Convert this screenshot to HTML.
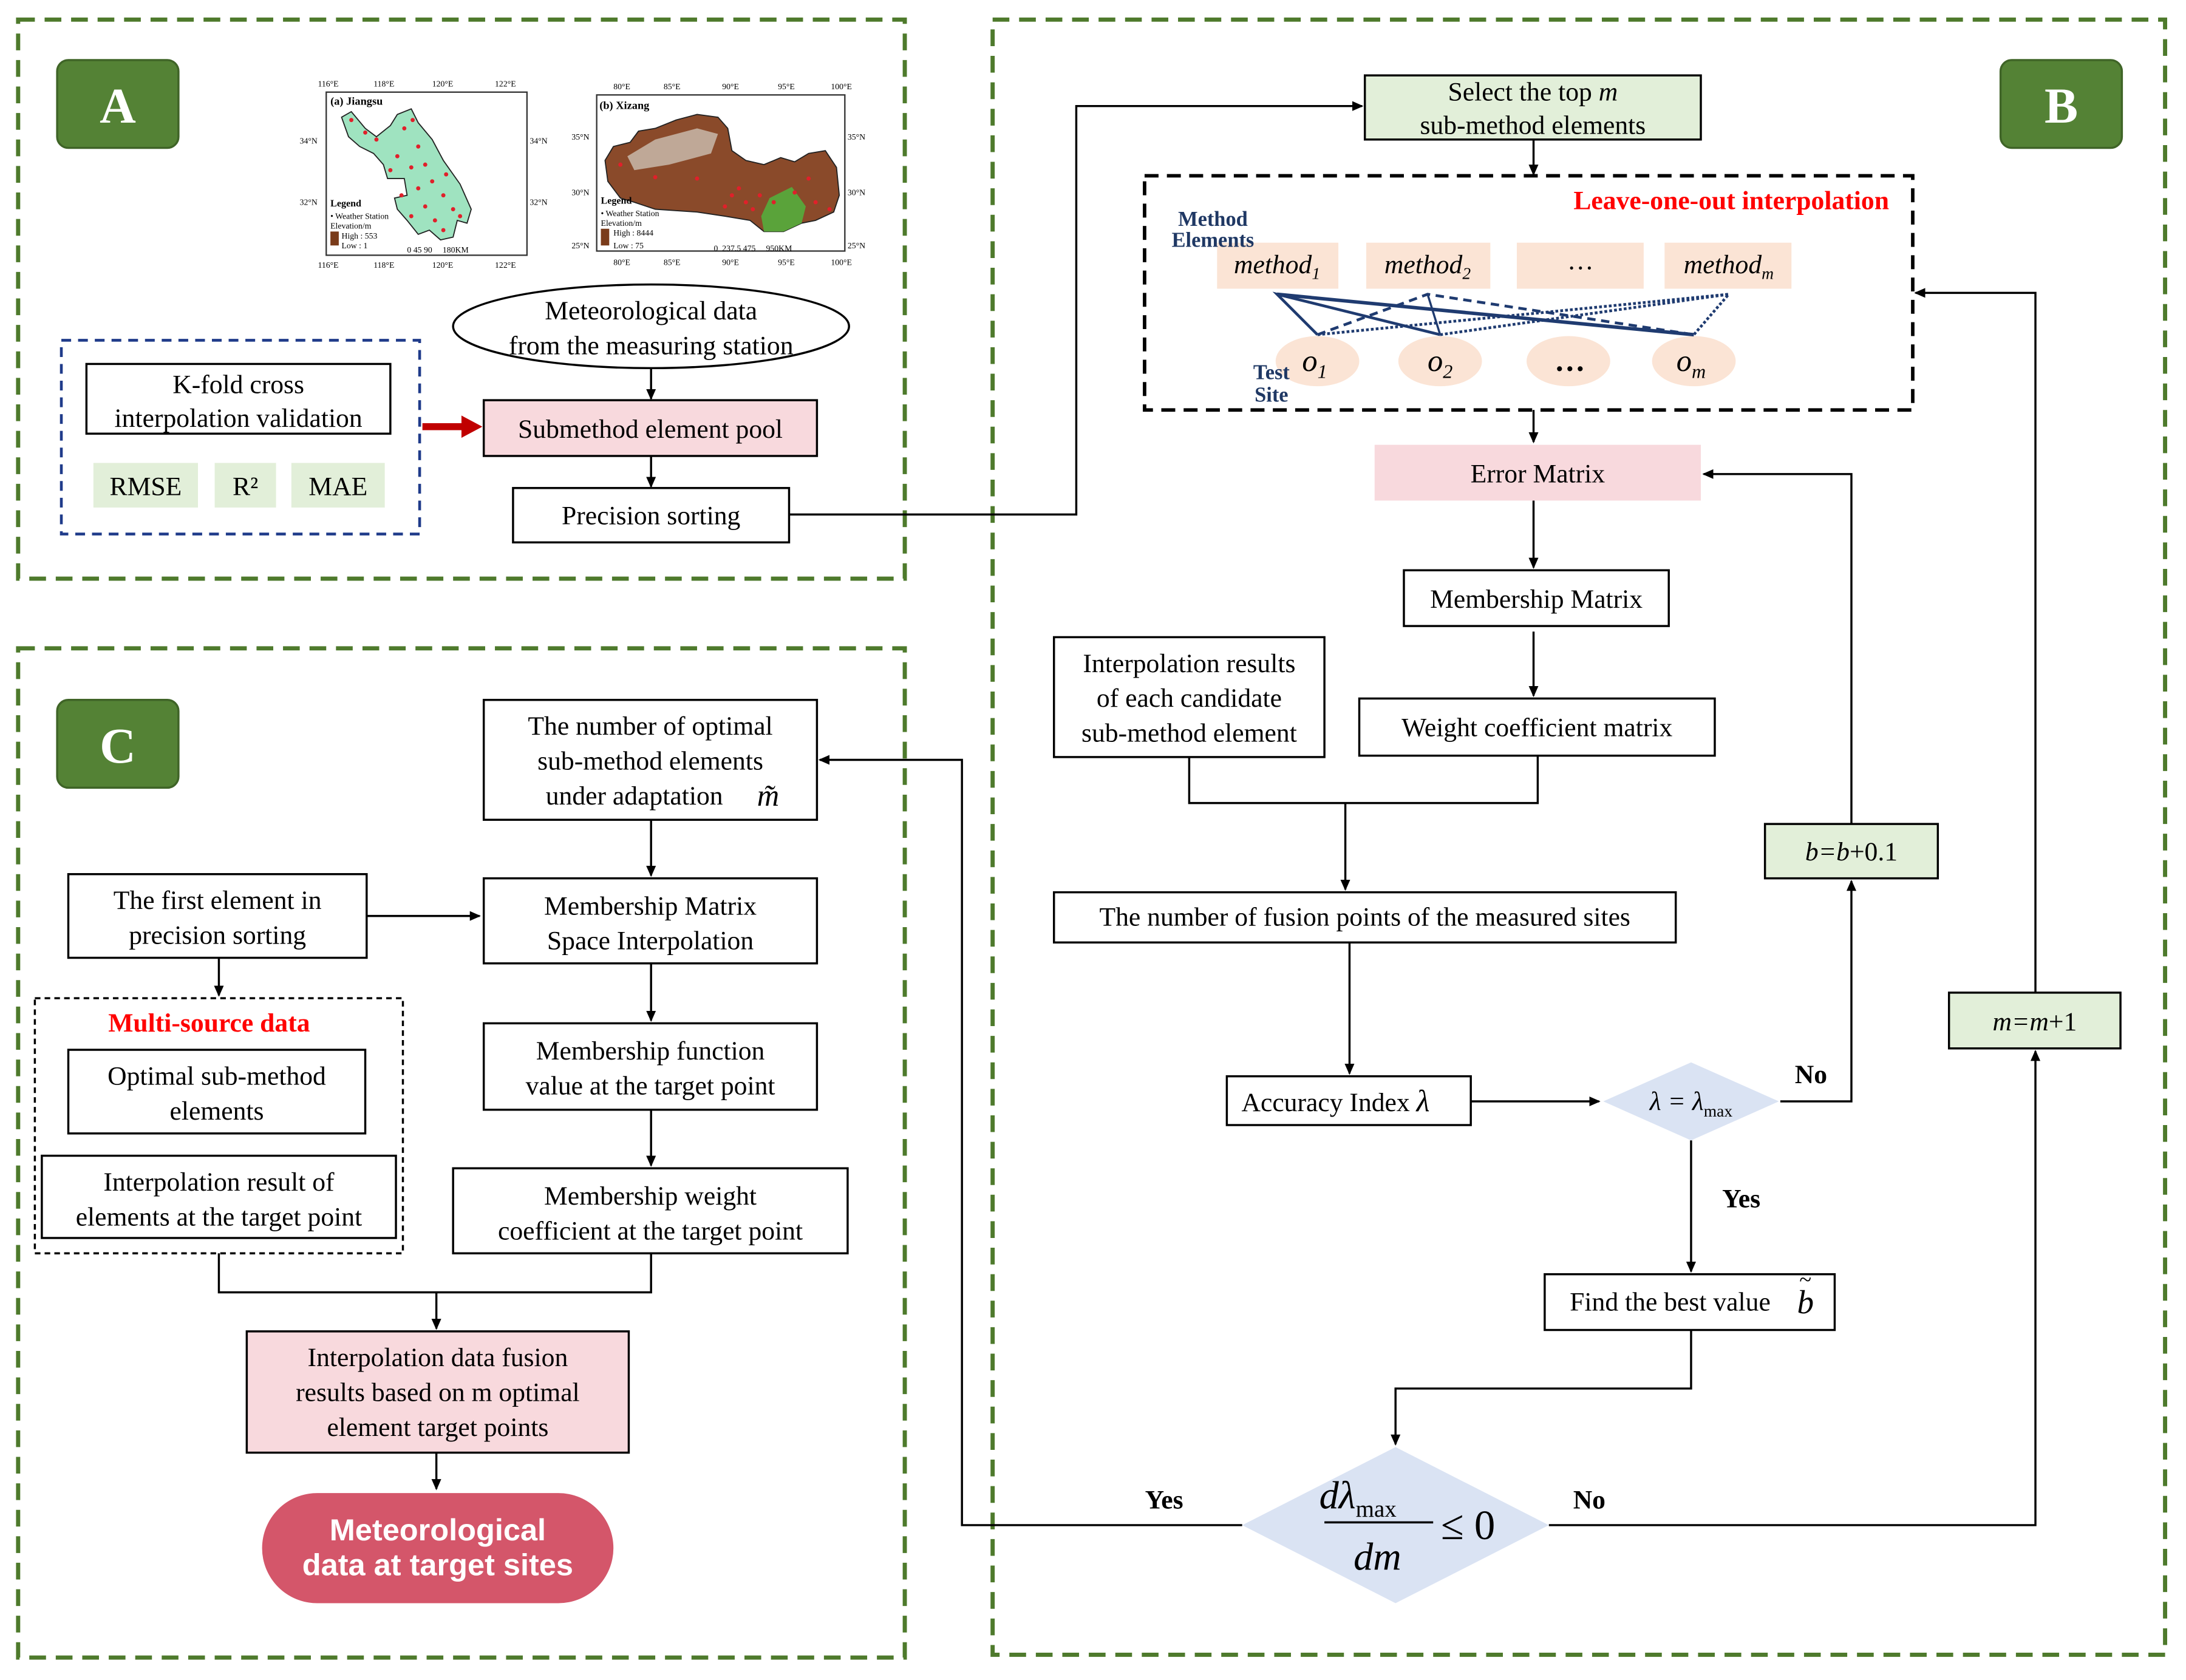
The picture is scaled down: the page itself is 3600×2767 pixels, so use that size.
<!DOCTYPE html>
<html><head><meta charset="utf-8"><style>
html,body{margin:0;padding:0;background:#fff;}
svg{display:block;}
text{font-family:"Liberation Serif",serif;fill:#000;}
</style></head><body>
<svg width="3600" height="2767" viewBox="0 0 1568 1205" xmlns="http://www.w3.org/2000/svg">
<defs>
<marker id="ar" markerWidth="8" markerHeight="8" refX="7" refY="4" orient="auto" markerUnits="userSpaceOnUse"><path d="M0,0.5 L8,4 L0,7.5 Z" fill="#000"/></marker>
</defs>
<rect width="1568" height="1205" fill="#fff"/>
<g fill="none" stroke="#4e7a2c" stroke-width="3" stroke-dasharray="12,7">
<rect x="13" y="14" width="636" height="401"/>
<rect x="712" y="14" width="841" height="1173"/>
<rect x="13" y="465" width="636" height="724"/>
</g>
<g font-weight="bold">
<rect x="41" y="43" width="87" height="63" rx="8" fill="#548235" stroke="#3f6427" stroke-width="1.5"/>
<text x="84.5" y="88" font-size="36" text-anchor="middle" style="fill:#fff;font-weight:bold">A</text>
<rect x="1435" y="43" width="87" height="63" rx="8" fill="#548235" stroke="#3f6427" stroke-width="1.5"/>
<text x="1478.5" y="88" font-size="36" text-anchor="middle" style="fill:#fff;font-weight:bold">B</text>
<rect x="41" y="502" width="87" height="63" rx="8" fill="#548235" stroke="#3f6427" stroke-width="1.5"/>
<text x="84.5" y="547" font-size="36" text-anchor="middle" style="fill:#fff;font-weight:bold">C</text>
</g>

<g font-size="6">
<rect x="234" y="66" width="144" height="117" fill="#fff" stroke="#333" stroke-width="1"/>
<text x="228" y="62">116°E</text><text x="268" y="62">118°E</text><text x="310" y="62">120°E</text><text x="355" y="62">122°E</text>
<text x="228" y="192">116°E</text><text x="268" y="192">118°E</text><text x="310" y="192">120°E</text><text x="355" y="192">122°E</text>
<text x="215" y="103">34°N</text><text x="380" y="103">34°N</text><text x="215" y="147">32°N</text><text x="380" y="147">32°N</text>
<text x="237" y="75" font-weight="bold" font-size="8">(a) Jiangsu</text>
<path d="M245,84 L252,80 L262,92 L270,98 L280,90 L285,82 L295,78 L300,88 L310,100 L318,115 L330,132 L338,150 L335,160 L328,158 L325,170 L316,172 L308,165 L300,168 L292,158 L285,150 L283,142 L292,140 L290,128 L278,128 L275,118 L268,110 L258,105 L250,98 Z" fill="#9fe3c0" stroke="#222" stroke-width="0.8"/>
<g fill="#e0202a">
<circle cx="252" cy="86" r="1.5"/><circle cx="262" cy="95" r="1.5"/><circle cx="290" cy="92" r="1.5"/><circle cx="300" cy="105" r="1.5"/><circle cx="285" cy="112" r="1.5"/><circle cx="295" cy="120" r="1.5"/><circle cx="305" cy="118" r="1.5"/><circle cx="310" cy="130" r="1.5"/><circle cx="300" cy="135" r="1.5"/><circle cx="288" cy="140" r="1.5"/><circle cx="318" cy="140" r="1.5"/><circle cx="325" cy="150" r="1.5"/><circle cx="305" cy="148" r="1.5"/><circle cx="295" cy="155" r="1.5"/><circle cx="312" cy="158" r="1.5"/><circle cx="280" cy="122" r="1.5"/><circle cx="270" cy="100" r="1.5"/><circle cx="296" cy="86" r="1.5"/><circle cx="320" cy="125" r="1.5"/><circle cx="318" cy="165" r="1.5"/><circle cx="330" cy="155" r="1.5"/>
</g>
<text x="237" y="148" font-weight="bold" font-size="7">Legend</text>
<text x="237" y="157" font-size="6">• Weather Station</text><text x="237" y="164">Elevation/m</text>
<rect x="237" y="166" width="6" height="10" fill="#7a3b1a"/><text x="245" y="171">High : 553</text><text x="245" y="178">Low : 1</text>
<text x="292" y="181">0 45 90&#160;&#160;&#160;&#160;&#160;180KM</text>

<rect x="428" y="68" width="178" height="112" fill="#fff" stroke="#333" stroke-width="1"/>
<text x="440" y="64">80°E</text><text x="476" y="64">85°E</text><text x="518" y="64">90°E</text><text x="558" y="64">95°E</text><text x="596" y="64">100°E</text>
<text x="440" y="190">80°E</text><text x="476" y="190">85°E</text><text x="518" y="190">90°E</text><text x="558" y="190">95°E</text><text x="596" y="190">100°E</text>
<text x="410" y="100">35°N</text><text x="608" y="100">35°N</text><text x="410" y="140">30°N</text><text x="608" y="140">30°N</text><text x="410" y="178">25°N</text><text x="608" y="178">25°N</text>
<text x="430" y="78" font-weight="bold" font-size="8">(b) Xizang</text>
<path d="M434,115 L440,105 L452,102 L458,94 L470,92 L485,86 L500,82 L515,84 L522,92 L525,108 L535,115 L548,118 L560,113 L570,116 L580,110 L592,108 L600,120 L602,140 L598,152 L585,158 L575,160 L562,166 L548,166 L538,158 L520,155 L500,152 L470,150 L455,145 L445,142 L436,130 Z" fill="#8a4a2a" stroke="#222" stroke-width="0.8"/>
<path d="M450,112 L470,100 L500,92 L515,96 L510,110 L480,118 L455,122 Z" fill="#c8b8aa" opacity="0.85"/>
<path d="M552,142 L568,134 L578,148 L575,160 L562,166 L548,166 L546,155 Z" fill="#5aa33a"/>
<g fill="#e0202a"><circle cx="445" cy="118" r="1.5"/><circle cx="470" cy="127" r="1.5"/><circle cx="500" cy="128" r="1.5"/><circle cx="530" cy="135" r="1.5"/><circle cx="545" cy="140" r="1.5"/><circle cx="555" cy="145" r="1.5"/><circle cx="570" cy="138" r="1.5"/><circle cx="585" cy="145" r="1.5"/><circle cx="520" cy="148" r="1.5"/><circle cx="540" cy="150" r="1.5"/><circle cx="580" cy="128" r="1.5"/><circle cx="595" cy="150" r="1.5"/><circle cx="525" cy="140" r="1.5"/><circle cx="535" cy="145" r="1.5"/></g>
<text x="431" y="146" font-weight="bold" font-size="7">Legend</text>
<text x="431" y="155">• Weather Station</text><text x="431" y="162">Elevation/m</text>
<rect x="431" y="164" width="6" height="12" fill="#7a3b1a"/><text x="440" y="169">High : 8444</text><text x="440" y="178">Low : 75</text>
<text x="512" y="180">0&#160;&#160;237.5&#160;475&#160;&#160;&#160;&#160;&#160;950KM</text>
</g>

<g font-size="19">
<rect x="44" y="244" width="257" height="139" fill="none" stroke="#1f3b8a" stroke-width="2" stroke-dasharray="7,5"/>
<rect x="62" y="261" width="218" height="50" fill="#fff" stroke="#000" stroke-width="1.5"/>
<text x="171" y="282" text-anchor="middle">K-fold cross</text>
<text x="171" y="306" text-anchor="middle">interpolation validation</text>
<rect x="67" y="332" width="75" height="32" fill="#e2efd9"/><text x="104.5" y="355" text-anchor="middle">RMSE</text>
<rect x="154" y="332" width="44" height="32" fill="#e2efd9"/><text x="176" y="355" text-anchor="middle">R²</text>
<rect x="209" y="332" width="67" height="32" fill="#e2efd9"/><text x="242.5" y="355" text-anchor="middle">MAE</text>
<path d="M303,306 L333,306" stroke="#c00000" stroke-width="5"/><path d="M331,298 L346,306 L331,314 Z" fill="#c00000"/>
<ellipse cx="467" cy="234" rx="142" ry="30" fill="#fff" stroke="#000" stroke-width="1.5"/>
<text x="467" y="229" text-anchor="middle">Meteorological data</text>
<text x="467" y="254" text-anchor="middle">from the measuring station</text>
<line x1="467" y1="264" x2="467" y2="286" stroke="#000" stroke-width="1.5" marker-end="url(#ar)"/>
<rect x="347" y="287" width="239" height="40" fill="#f8d9dd" stroke="#000" stroke-width="1.5"/>
<text x="466.5" y="314" text-anchor="middle">Submethod element pool</text>
<line x1="467" y1="327" x2="467" y2="349" stroke="#000" stroke-width="1.5" marker-end="url(#ar)"/>
<rect x="368" y="350" width="198" height="39" fill="#fff" stroke="#000" stroke-width="1.5"/>
<text x="467" y="376" text-anchor="middle">Precision sorting</text>
<polyline points="566,369 772,369 772,76 977,76" fill="none" stroke="#000" stroke-width="1.5" marker-end="url(#ar)"/>
</g>

<g font-size="19">
<rect x="979" y="54" width="241" height="46" fill="#e2efd9" stroke="#000" stroke-width="1.5"/>
<text x="1099.5" y="72" text-anchor="middle">Select the top <tspan font-style="italic">m</tspan></text>
<text x="1099.5" y="96" text-anchor="middle">sub-method elements</text>
<line x1="1100" y1="100" x2="1100" y2="125" stroke="#000" stroke-width="1.5" marker-end="url(#ar)"/>
<rect x="821" y="126" width="551" height="168" fill="none" stroke="#000" stroke-width="2.5" stroke-dasharray="10,6"/>
<text x="1355" y="150" text-anchor="end" style="fill:#ff0000;font-weight:bold" font-size="19">Leave-one-out interpolation</text>
<g fill="#fbe4d5">
<rect x="873" y="174" width="87" height="33"/><rect x="980" y="174" width="89" height="33"/><rect x="1088" y="174" width="91" height="33"/><rect x="1194" y="174" width="91" height="33"/>
<ellipse cx="945" cy="259" rx="30" ry="18"/><ellipse cx="1033" cy="259" rx="30" ry="18"/><ellipse cx="1125" cy="259" rx="30" ry="18"/><ellipse cx="1215" cy="259" rx="30" ry="18"/>
</g>
<text x="870" y="162" text-anchor="middle" style="fill:#1f3864;font-weight:bold" font-size="15">Method</text>
<text x="870" y="177" text-anchor="middle" style="fill:#1f3864;font-weight:bold" font-size="15">Elements</text>
<text x="912" y="272" text-anchor="middle" style="fill:#1f3864;font-weight:bold" font-size="15">Test</text>
<text x="912" y="288" text-anchor="middle" style="fill:#1f3864;font-weight:bold" font-size="15">Site</text>
<g font-style="italic" text-anchor="middle">
<text x="916" y="196">method<tspan font-size="12" dy="4">1</tspan></text>
<text x="1024" y="196">method<tspan font-size="12" dy="4">2</tspan></text>
<text x="1134" y="193">…</text>
<text x="1240" y="196">method<tspan font-size="12" dy="4">m</tspan></text>
<text x="943" y="266" font-size="22">o<tspan font-size="14" dy="5">1</tspan></text>
<text x="1033" y="266" font-size="22">o<tspan font-size="14" dy="5">2</tspan></text>
<text x="1126" y="266" font-size="22" font-style="normal" font-weight="bold">…</text>
<text x="1213" y="266" font-size="22">o<tspan font-size="14" dy="5">m</tspan></text>
</g>
<g stroke="#1f3b70" fill="none">
<polyline points="1033,240 916,211 945,240" stroke-width="2"/>
<line x1="916" y1="211" x2="1215" y2="240" stroke-width="2.5"/>
<polyline points="945,240 1024,211 1215,240" stroke-width="2" stroke-dasharray="6,4"/>
<line x1="1024" y1="211" x2="1033" y2="240" stroke-width="1.5"/>
<polyline points="945,240 1240,211 1215,240" stroke-width="2" stroke-dasharray="2,1.5"/>
<line x1="1033" y1="240" x2="1240" y2="211" stroke-width="2" stroke-dasharray="2,1.5"/>
</g>
<line x1="1100" y1="294" x2="1100" y2="317" stroke="#000" stroke-width="1.5" marker-end="url(#ar)"/>
<rect x="986" y="319" width="234" height="40" fill="#f8d9dd"/>
<text x="1103" y="346" text-anchor="middle">Error Matrix</text>
<line x1="1100" y1="359" x2="1100" y2="407" stroke="#000" stroke-width="1.5" marker-end="url(#ar)"/>
<rect x="1007" y="409" width="190" height="40" fill="#fff" stroke="#000" stroke-width="1.5"/>
<text x="1102" y="436" text-anchor="middle">Membership Matrix</text>
<line x1="1100" y1="453" x2="1100" y2="499" stroke="#000" stroke-width="1.5" marker-end="url(#ar)"/>
<rect x="756" y="457" width="194" height="86" fill="#fff" stroke="#000" stroke-width="1.5"/>
<text x="853" y="482" text-anchor="middle">Interpolation results</text>
<text x="853" y="507" text-anchor="middle">of each candidate</text>
<text x="853" y="532" text-anchor="middle">sub-method element</text>
<rect x="975" y="501" width="255" height="41" fill="#fff" stroke="#000" stroke-width="1.5"/>
<text x="1102.5" y="528" text-anchor="middle">Weight coefficient matrix</text>
<polyline points="853,543 853,576 1103,576 1103,542" fill="none" stroke="#000" stroke-width="1.5"/>
<line x1="965" y1="576" x2="965" y2="638" stroke="#000" stroke-width="1.5" marker-end="url(#ar)"/>
<rect x="756" y="640" width="446" height="36" fill="#fff" stroke="#000" stroke-width="1.5"/>
<text x="979" y="664" text-anchor="middle">The number of fusion points of the measured sites</text>
<line x1="968" y1="676" x2="968" y2="770" stroke="#000" stroke-width="1.5" marker-end="url(#ar)"/>
<rect x="880" y="772" width="175" height="35" fill="#fff" stroke="#000" stroke-width="1.5"/>
<text x="958" y="797" text-anchor="middle">Accuracy Index <tspan font-style="italic" font-size="22">λ</tspan></text>
<line x1="1055" y1="790" x2="1147" y2="790" stroke="#000" stroke-width="1.5" marker-end="url(#ar)"/>
<path d="M1150,790 L1213,762 L1276,790 L1213,818 Z" fill="#dae3f3"/>
<text x="1213" y="796" text-anchor="middle" font-style="italic">λ = λ<tspan font-size="12" font-style="normal" dy="5">max</tspan></text>
<polyline points="1277,790 1328,790 1328,632" fill="none" stroke="#000" stroke-width="1.5" marker-end="url(#ar)"/>
<text x="1299" y="777" text-anchor="middle" font-weight="bold">No</text>
<rect x="1266" y="591" width="124" height="39" fill="#e2efd9" stroke="#000" stroke-width="1.5"/>
<text x="1328" y="617" text-anchor="middle" font-style="italic">b=b<tspan font-style="normal">+0.1</tspan></text>
<polyline points="1328,591 1328,340 1222,340" fill="none" stroke="#000" stroke-width="1.5" marker-end="url(#ar)"/>
<line x1="1213" y1="818" x2="1213" y2="912" stroke="#000" stroke-width="1.5" marker-end="url(#ar)"/>
<text x="1249" y="866" text-anchor="middle" font-weight="bold">Yes</text>
<rect x="1108" y="914" width="208" height="40" fill="#fff" stroke="#000" stroke-width="1.5"/>
<text x="1198" y="940" text-anchor="middle">Find the best value</text>
<text x="1295" y="942" text-anchor="middle" font-style="italic" font-size="24">b</text>
<text x="1295" y="923" text-anchor="middle" font-size="16">~</text>
<polyline points="1213,954 1213,996 1001,996 1001,1036" fill="none" stroke="#000" stroke-width="1.5" marker-end="url(#ar)"/>
<path d="M891,1094 L1001,1038 L1111,1094 L1001,1150 Z" fill="#dae3f3"/>
<text x="974" y="1082" text-anchor="middle" font-style="italic" font-size="28">dλ<tspan font-style="normal" font-size="17" dy="6">max</tspan></text>
<line x1="950" y1="1092" x2="1028" y2="1092" stroke="#000" stroke-width="1.5"/>
<text x="988" y="1126" text-anchor="middle" font-style="italic" font-size="28">dm</text>
<text x="1053" y="1104" text-anchor="middle" font-size="30">≤ 0</text>
<polyline points="891,1094 690,1094 690,545 588,545" fill="none" stroke="#000" stroke-width="1.5" marker-end="url(#ar)"/>
<text x="835" y="1082" text-anchor="middle" font-weight="bold">Yes</text>
<polyline points="1111,1094 1460,1094 1460,754" fill="none" stroke="#000" stroke-width="1.5" marker-end="url(#ar)"/>
<text x="1140" y="1082" text-anchor="middle" font-weight="bold">No</text>
<rect x="1398" y="712" width="123" height="40" fill="#e2efd9" stroke="#000" stroke-width="1.5"/>
<text x="1459.5" y="739" text-anchor="middle" font-style="italic">m=m<tspan font-style="normal">+1</tspan></text>
<polyline points="1460,712 1460,210 1374,210" fill="none" stroke="#000" stroke-width="1.5" marker-end="url(#ar)"/>
</g>

<g font-size="19">
<rect x="347" y="502" width="239" height="86" fill="#fff" stroke="#000" stroke-width="1.5"/>
<text x="466.5" y="527" text-anchor="middle">The number of optimal</text>
<text x="466.5" y="552" text-anchor="middle">sub-method elements</text>
<text x="455" y="577" text-anchor="middle">under adaptation</text>
<text x="551" y="578" text-anchor="middle" font-style="italic" font-size="22">m̃</text>
<line x1="467" y1="588" x2="467" y2="628" stroke="#000" stroke-width="1.5" marker-end="url(#ar)"/>
<rect x="347" y="630" width="239" height="61" fill="#fff" stroke="#000" stroke-width="1.5"/>
<text x="466.5" y="656" text-anchor="middle">Membership Matrix</text>
<text x="466.5" y="681" text-anchor="middle">Space Interpolation</text>
<rect x="49" y="627" width="214" height="60" fill="#fff" stroke="#000" stroke-width="1.5"/>
<text x="156" y="652" text-anchor="middle">The first element in</text>
<text x="156" y="677" text-anchor="middle">precision sorting</text>
<line x1="263" y1="657" x2="344" y2="657" stroke="#000" stroke-width="1.5" marker-end="url(#ar)"/>
<line x1="157" y1="687" x2="157" y2="714" stroke="#000" stroke-width="1.5" marker-end="url(#ar)"/>
<rect x="25" y="716" width="264" height="183" fill="none" stroke="#000" stroke-width="1.5" stroke-dasharray="4,3"/>
<text x="150" y="740" text-anchor="middle" style="fill:#ff0000;font-weight:bold">Multi-source data</text>
<rect x="49" y="753" width="213" height="60" fill="#fff" stroke="#000" stroke-width="1.5"/>
<text x="155.5" y="778" text-anchor="middle">Optimal sub-method</text>
<text x="155.5" y="803" text-anchor="middle">elements</text>
<rect x="30" y="829" width="254" height="59" fill="#fff" stroke="#000" stroke-width="1.5"/>
<text x="157" y="854" text-anchor="middle">Interpolation result of</text>
<text x="157" y="879" text-anchor="middle">elements at the target point</text>
<line x1="467" y1="691" x2="467" y2="732" stroke="#000" stroke-width="1.5" marker-end="url(#ar)"/>
<rect x="347" y="734" width="239" height="62" fill="#fff" stroke="#000" stroke-width="1.5"/>
<text x="466.5" y="760" text-anchor="middle">Membership function</text>
<text x="466.5" y="785" text-anchor="middle">value at the target point</text>
<line x1="467" y1="796" x2="467" y2="836" stroke="#000" stroke-width="1.5" marker-end="url(#ar)"/>
<rect x="325" y="838" width="283" height="61" fill="#fff" stroke="#000" stroke-width="1.5"/>
<text x="466.5" y="864" text-anchor="middle">Membership weight</text>
<text x="466.5" y="889" text-anchor="middle">coefficient at the target point</text>
<polyline points="157,899 157,927 467,927 467,899" fill="none" stroke="#000" stroke-width="1.5"/>
<line x1="313" y1="927" x2="313" y2="953" stroke="#000" stroke-width="1.5" marker-end="url(#ar)"/>
<rect x="177" y="955" width="274" height="87" fill="#f8d9dd" stroke="#000" stroke-width="1.5"/>
<text x="314" y="980" text-anchor="middle">Interpolation data fusion</text>
<text x="314" y="1005" text-anchor="middle">results based on m optimal</text>
<text x="314" y="1030" text-anchor="middle">element target points</text>
<line x1="313" y1="1042" x2="313" y2="1068" stroke="#000" stroke-width="1.5" marker-end="url(#ar)"/>
<rect x="188" y="1071" width="252" height="79" rx="39.5" fill="#d4566a"/>
<text x="314" y="1105" text-anchor="middle" style="fill:#fff;font-family:'Liberation Sans',sans-serif;font-weight:bold" font-size="22">Meteorological</text>
<text x="314" y="1130" text-anchor="middle" style="fill:#fff;font-family:'Liberation Sans',sans-serif;font-weight:bold" font-size="22">data at target sites</text>
</g>
</svg>
</body></html>
